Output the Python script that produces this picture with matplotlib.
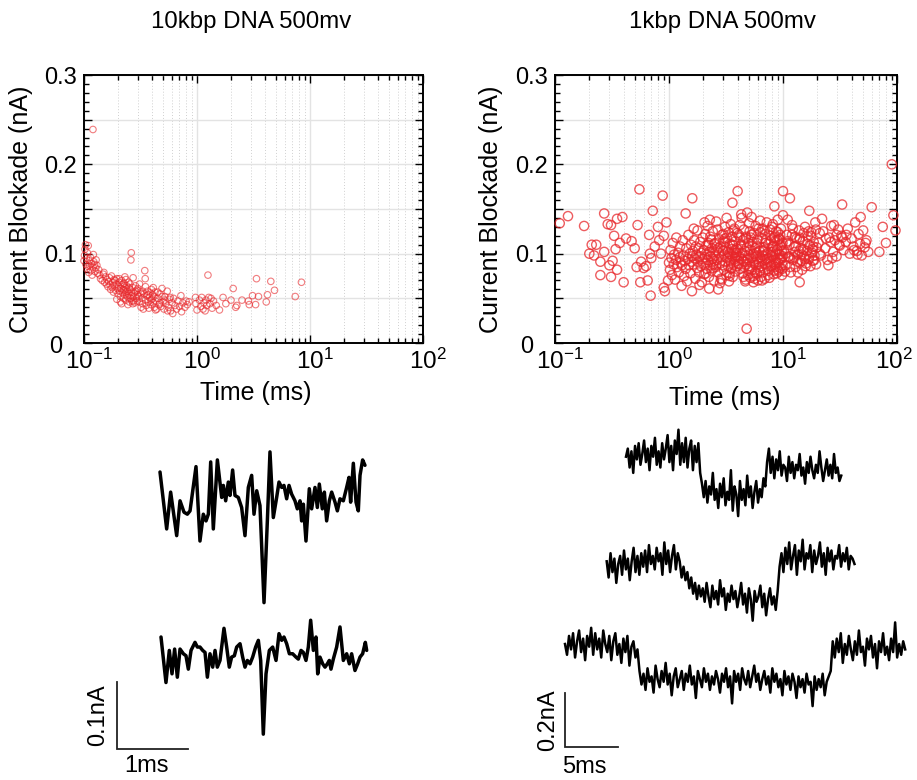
import numpy as np
import matplotlib
matplotlib.use("Agg")
import matplotlib.pyplot as plt
from matplotlib.ticker import MultipleLocator, FuncFormatter, LogLocator
from matplotlib.transforms import offset_copy, blended_transform_factory

plt.rcParams['font.family'] = ['Liberation Sans', 'DejaVu Sans']
plt.rcParams['mathtext.fontset'] = 'custom'
plt.rcParams['mathtext.rm'] = 'Liberation Sans'
plt.rcParams['mathtext.it'] = 'Liberation Sans:italic'
plt.rcParams['mathtext.bf'] = 'Liberation Sans:bold'

# ---------------- data: 10kbp scatter ----------------
l1_t = [0.100,0.101,0.102,0.103,0.104,0.105,0.106,0.107,0.108,0.109,0.110,0.111,0.112,0.114,0.115,0.117,0.118,0.120,0.121,0.122,0.124,0.125,0.127,0.128,0.130,0.132,0.120]
l1_i = [0.092,0.098,0.105,0.110,0.088,0.095,0.083,0.101,0.086,0.109,0.079,0.092,0.087,0.096,0.081,0.089,0.076,0.085,0.099,0.091,0.088,0.080,0.084,0.093,0.087,0.078,0.239]
l2_t = [0.135,0.138,0.140,0.145,0.148,0.150,0.152,0.155,0.158,0.160,0.163,0.165,0.168,0.170,0.172,0.175,0.178,0.180,0.182,0.185,0.188,0.190,0.192,0.195,0.198]
l2_i = [0.082,0.076,0.072,0.070,0.077,0.079,0.068,0.074,0.066,0.071,0.063,0.069,0.073,0.065,0.060,0.075,0.062,0.068,0.057,0.064,0.070,0.059,0.066,0.072,0.061]
l3_t = [0.200,0.202,0.205,0.207,0.210,0.212,0.215,0.217,0.220,0.222,0.224,0.226,0.228,0.230,0.232,0.234,0.236,0.238,0.240,0.242,0.245,0.248,0.250,0.252,0.255,0.258,0.260,0.262,0.263,0.266,0.270,0.272,0.275,0.278,0.282,0.285,0.290,0.295,0.298]
l3_i = [0.055,0.063,0.068,0.058,0.052,0.061,0.070,0.065,0.056,0.060,0.050,0.067,0.054,0.059,0.062,0.048,0.057,0.064,0.053,0.058,0.051,0.068,0.055,0.046,0.060,0.050,0.093,0.101,0.057,0.047,0.062,0.073,0.052,0.056,0.045,0.058,0.050,0.047,0.054]
l4_t = [0.300,0.305,0.310,0.315,0.320,0.325,0.330,0.335,0.340,0.345,0.348,0.350,0.355,0.360,0.365,0.370,0.375,0.380,0.385,0.390,0.395,0.400,0.405,0.410,0.415,0.420,0.425,0.430,0.440,0.450,0.460,0.470,0.480,0.490,0.500]
l4_i = [0.061,0.052,0.046,0.057,0.040,0.050,0.044,0.038,0.055,0.081,0.072,0.048,0.042,0.053,0.058,0.046,0.039,0.051,0.056,0.043,0.060,0.049,0.054,0.045,0.052,0.040,0.057,0.047,0.038,0.050,0.043,0.055,0.041,0.061,0.046]
l5_t = [0.510,0.520,0.530,0.545,0.560,0.570,0.585,0.600,0.610,0.620,0.640,0.660,0.680,0.700,0.720,0.730,0.750,0.780,0.800,0.820,0.850,0.970,0.980,1.000]
l5_i = [0.038,0.052,0.044,0.058,0.040,0.049,0.036,0.045,0.033,0.050,0.042,0.038,0.047,0.041,0.053,0.035,0.045,0.040,0.047,0.043,0.046,0.051,0.044,0.037]
l6_t = [1.05,1.08,1.10,1.13,1.15,1.18,1.20,1.22,1.25,1.27,1.30,1.33,1.36,1.40,1.48,1.58,1.70,1.80,2.00,2.09,2.20,2.25]
l6_i = [0.048,0.041,0.051,0.038,0.045,0.036,0.048,0.042,0.076,0.051,0.044,0.050,0.039,0.047,0.042,0.037,0.051,0.044,0.048,0.061,0.040,0.042]
l7_t = [2.5,2.85,2.9,3.1,3.3,3.36,3.5,4.1,4.2,4.5,4.85,7.4,8.4]
l7_i = [0.048,0.047,0.043,0.053,0.043,0.072,0.052,0.046,0.054,0.069,0.059,0.052,0.068]
l8_t = [0.185,0.195,0.205,0.215,0.225,0.235,0.245,0.255,0.265,0.275,0.285,0.295,0.31,0.33,0.35,0.37,0.39,0.41,0.43,0.45,0.47,0.49,0.52,0.55,0.58,0.21,0.23,0.25,0.27,0.32]
l8_i = [0.071,0.049,0.072,0.044,0.066,0.071,0.043,0.066,0.053,0.047,0.064,0.059,0.066,0.058,0.063,0.054,0.048,0.062,0.037,0.057,0.045,0.052,0.048,0.036,0.051,0.046,0.074,0.062,0.044,0.055]

# ---------------- data: 1kbp scatter ----------------
ra_t = [1.00,1.02,1.03,1.05,1.06,1.08,1.10,1.11,1.13,1.15,1.16,1.18,1.20,1.22,1.24,1.25,1.27,1.29,1.30,1.32,1.34,1.36,1.38,1.40,1.42,1.44,1.46,1.48,1.50,1.52,1.54,1.56,1.58,1.59,1.60]
ra_i = [0.090,0.082,0.104,0.095,0.076,0.112,0.088,0.099,0.071,0.093,0.118,0.085,0.101,0.079,0.096,0.108,0.090,0.064,0.087,0.115,0.098,0.075,0.092,0.083,0.106,0.069,0.094,0.121,0.087,0.100,0.078,0.110,0.091,0.058,0.097]
rb_t = [1.62,1.64,1.66,1.68,1.70,1.72,1.74,1.76,1.78,1.80,1.82,1.84,1.86,1.88,1.90,1.92,1.94,1.96,1.98,2.00,2.02,2.04,2.06,2.08,2.10,2.12,2.14,2.16,2.18,2.20,2.22,2.24,2.26,2.28,2.30,2.32,2.34,2.36,2.38,2.40,2.42,2.44,2.46,2.48,2.50,1.65,1.85,2.05,2.25,2.45]
rb_i = [0.103,0.088,0.115,0.095,0.072,0.108,0.099,0.084,0.126,0.091,0.106,0.079,0.097,0.113,0.086,0.101,0.068,0.094,0.118,0.089,0.104,0.077,0.096,0.122,0.090,0.109,0.083,0.099,0.131,0.093,0.112,0.074,0.102,0.138,0.087,0.097,0.116,0.081,0.106,0.094,0.125,0.088,0.100,0.070,0.111,0.128,0.065,0.135,0.061,0.084]
rc_t = [2.52,2.55,2.58,2.61,2.64,2.67,2.70,2.73,2.76,2.79,2.82,2.85,2.88,2.91,2.94,2.97,3.00,3.03,3.06,3.09,3.12,3.15,3.18,3.21,3.24,3.27,3.30,3.33,3.36,3.39,3.42,3.45,3.48,3.51,3.54,3.57,3.60,3.63,3.66,3.69,3.72,3.75,3.78,3.81,3.84,3.87,3.90,3.93,3.96,3.99,2.60,2.80,3.00,3.20,3.40,3.60,3.80,2.70,3.10,3.50]
rc_i = [0.098,0.112,0.085,0.104,0.093,0.127,0.079,0.101,0.116,0.089,0.108,0.072,0.096,0.121,0.087,0.103,0.114,0.082,0.099,0.130,0.091,0.107,0.076,0.118,0.095,0.102,0.086,0.124,0.069,0.100,0.111,0.092,0.133,0.083,0.105,0.097,0.119,0.074,0.109,0.088,0.101,0.128,0.094,0.080,0.114,0.098,0.106,0.086,0.123,0.092,0.136,0.067,0.103,0.140,0.078,0.110,0.096,0.060,0.117,0.090]
rd_t = [4.02,4.06,4.10,4.14,4.18,4.22,4.26,4.30,4.34,4.38,4.42,4.46,4.50,4.54,4.58,4.62,4.66,4.70,4.74,4.78,4.82,4.86,4.90,4.94,4.98,5.02,5.06,5.10,5.14,5.18,5.22,5.26,5.30,5.35,5.40,5.45,5.50,5.55,5.60,5.65,5.70,5.75,5.80,5.85,5.90,5.95,6.00,6.05,6.10,6.15,6.20,6.25,6.30,6.35,6.40,4.30,4.70,5.10,5.50,5.90]
rd_i = [0.105,0.089,0.121,0.097,0.132,0.083,0.110,0.094,0.140,0.101,0.078,0.115,0.092,0.127,0.085,0.103,0.069,0.098,0.119,0.088,0.107,0.146,0.093,0.076,0.112,0.099,0.134,0.086,0.104,0.073,0.118,0.095,0.141,0.082,0.109,0.097,0.075,0.123,0.090,0.072,0.106,0.131,0.087,0.101,0.078,0.116,0.094,0.070,0.128,0.089,0.103,0.081,0.137,0.096,0.074,0.144,0.071,0.125,0.068,0.108]
re_t = [6.50,6.60,6.70,6.80,6.90,7.00,7.10,7.20,7.30,7.40,7.50,7.60,7.70,7.80,7.90,8.00,8.10,8.20,8.30,8.40,8.50,8.60,8.70,8.80,8.90,9.00,9.10,9.20,9.30,9.40,9.50,9.60,9.70,9.80,9.90,10.0,6.55,6.95,7.35,7.75,8.15,8.55,8.95,9.35,9.75,6.75,7.55,8.35,9.15,9.95,7.05,7.85,8.65,9.45,6.65]
re_i = [0.092,0.117,0.079,0.104,0.126,0.088,0.099,0.135,0.083,0.111,0.095,0.073,0.120,0.102,0.087,0.130,0.097,0.108,0.081,0.153,0.114,0.093,0.125,0.078,0.105,0.138,0.090,0.099,0.117,0.084,0.109,0.128,0.095,0.076,0.112,0.143,0.070,0.122,0.101,0.089,0.133,0.085,0.115,0.094,0.103,0.107,0.091,0.118,0.080,0.097,0.112,0.086,0.100,0.121,0.098]
rf_t = [10.2,10.5,10.8,11.1,11.4,11.7,12.0,12.3,12.6,12.9,13.2,13.5,13.8,14.1,14.4,14.7,15.0,15.3,15.6,15.9,16.2,16.5,16.8,17.1,17.4,17.7,18.0,18.3,18.6,18.9,19.2,19.5,19.8,10.4,11.0,11.6,12.2,12.8,13.4,14.0,14.6,15.2,15.8,16.4,17.0,17.6,18.2,18.8,19.4,10.7]
rf_i = [0.104,0.087,0.121,0.096,0.110,0.079,0.132,0.093,0.108,0.085,0.117,0.099,0.126,0.090,0.106,0.082,0.114,0.097,0.130,0.089,0.103,0.119,0.094,0.109,0.086,0.124,0.101,0.092,0.113,0.098,0.135,0.088,0.107,0.080,0.138,0.095,0.128,0.102,0.091,0.116,0.099,0.123,0.086,0.111,0.097,0.120,0.105,0.093,0.127,0.112]
rg_t = [20.5,21.5,22.5,23.5,24.5,25.5,26.5,27.5,28.5,29.5,30.5,31.5,32.5,34,35.5,37,38.5,40,41.5,43,44.5,46,47.5,49,50.5,52,54,56,22,25,28,31,36,42,48,53,21,27,33,45]
rg_i = [0.112,0.098,0.125,0.106,0.093,0.118,0.131,0.102,0.115,0.097,0.127,0.109,0.120,0.104,0.113,0.128,0.100,0.117,0.108,0.135,0.103,0.122,0.111,0.098,0.126,0.107,0.115,0.102,0.139,0.087,0.132,0.110,0.121,0.104,0.141,0.112,0.123,0.095,0.118,0.099]
rh_t = [2.1,2.3,2.5,2.7,2.9,3.1,3.3,3.5,3.7,3.9,4.1,4.3,4.5,4.7,4.9,5.1,5.3,5.5,5.7,5.9,6.1,6.3,6.5,6.7,6.9,7.1,7.3,7.5,7.7,7.9,8.1,8.3,8.5,8.7,8.9,9.1,9.3,9.5,9.7,9.9,10.5,11.0,11.5,12.0,12.5,13.0,13.5,14.0,14.5,15.0,2.2,2.6,3.0,3.4,3.8,4.2,4.6,5.0,5.4,5.8,6.2,6.6,7.0,7.4,7.8,8.2,8.6,9.0,9.4,9.8,11.3,12.7,13.9,15.5,16.8,18.4,21.0,23.8,26.2,29.5]
rh_i = [0.078,0.119,0.092,0.106,0.071,0.113,0.097,0.084,0.126,0.101,0.088,0.109,0.074,0.117,0.095,0.083,0.121,0.100,0.079,0.112,0.091,0.124,0.086,0.103,0.072,0.115,0.094,0.081,0.127,0.098,0.108,0.077,0.119,0.090,0.104,0.082,0.116,0.093,0.110,0.087,0.100,0.114,0.085,0.121,0.096,0.108,0.079,0.118,0.092,0.105,0.110,0.087,0.122,0.075,0.104,0.118,0.091,0.081,0.113,0.097,0.085,0.128,0.093,0.076,0.115,0.102,0.088,0.124,0.099,0.083,0.097,0.119,0.103,0.094,0.125,0.108,0.100,0.117,0.113,0.121]
ro_t = [0.11,0.13,0.18,0.20,0.21,0.22,0.23,0.25,0.25,0.27,0.27,0.29,0.30,0.31,0.31,0.32,0.33,0.34,0.35,0.35,0.37,0.39,0.40,0.42,0.47,0.50,0.52,0.53,0.55,0.56,0.57,0.60,0.63,0.65,0.67,0.68,0.69,0.70,0.72,0.75,0.80,0.82,0.85,0.88,0.90,0.90,0.92,0.95,0.98,4.8,90,93,97,60,33,17,10,11.5,4.0,3.6,1.6,1.4,14,80,75,70]
ro_i = [0.134,0.142,0.131,0.100,0.110,0.098,0.110,0.091,0.076,0.145,0.102,0.133,0.087,0.074,0.132,0.092,0.120,0.105,0.082,0.139,0.112,0.141,0.068,0.117,0.114,0.106,0.085,0.132,0.172,0.068,0.091,0.084,0.086,0.070,0.121,0.100,0.053,0.095,0.148,0.108,0.130,0.115,0.100,0.165,0.062,0.120,0.058,0.135,0.070,0.016,0.200,0.143,0.126,0.152,0.155,0.148,0.170,0.162,0.170,0.157,0.162,0.145,0.068,0.112,0.130,0.102]

# ---------------- data: 10kbp event traces (time ms, current nA) ----------------
ev1_t = [0,0.094,0.150,0.235,0.282,0.338,0.385,0.423,0.507,0.563,0.610,0.648,0.681,0.714,0.751,0.808,0.869,0.892,0.925,0.962,0.986,1.023,1.056,1.103,1.150,1.197,1.244,1.291,1.324,1.362,1.408,1.465,1.512,1.549,1.596,1.643,1.676,1.714,1.746,1.784,1.817,1.854,1.901,1.934,1.972,1.995,2.019,2.056,2.103,2.136,2.183,2.216,2.244,2.286,2.315,2.347,2.385,2.418,2.465,2.498,2.535,2.582,2.629,2.662,2.685,2.723,2.761,2.793,2.817,2.854,2.887]
ev1_i = [0,-0.085,-0.030,-0.095,-0.043,-0.060,-0.063,-0.058,0.008,-0.103,-0.063,-0.073,-0.063,0.015,-0.085,0.018,-0.038,-0.020,-0.043,-0.015,-0.035,0.003,-0.035,-0.038,-0.053,-0.095,-0.023,-0.005,-0.063,-0.028,-0.050,-0.195,-0.073,0.030,-0.068,-0.038,-0.015,-0.023,-0.020,-0.040,-0.020,-0.033,-0.043,-0.055,-0.043,-0.073,-0.048,-0.103,-0.025,-0.055,-0.023,-0.053,-0.018,-0.055,-0.030,-0.073,-0.043,-0.030,-0.045,-0.058,-0.040,-0.043,-0.023,-0.008,-0.045,0.013,-0.045,-0.058,-0.005,0.018,0.010]
ev2_t = [0,0.070,0.117,0.155,0.192,0.230,0.268,0.315,0.352,0.385,0.423,0.479,0.512,0.549,0.587,0.620,0.653,0.690,0.728,0.761,0.793,0.831,0.887,0.925,0.962,0.995,1.033,1.066,1.113,1.150,1.183,1.216,1.254,1.291,1.333,1.371,1.404,1.441,1.479,1.526,1.573,1.620,1.662,1.700,1.732,1.770,1.808,1.854,1.901,1.934,1.972,2.005,2.042,2.075,2.108,2.146,2.183,2.207,2.239,2.277,2.310,2.343,2.371,2.394,2.427,2.474,2.521,2.568,2.615,2.653,2.685,2.732,2.770,2.803,2.840,2.878,2.897]
ev2_i = [0,-0.068,-0.020,-0.055,-0.018,-0.060,-0.018,-0.025,-0.028,-0.048,-0.020,-0.008,-0.015,-0.015,-0.020,-0.023,-0.060,-0.025,-0.045,-0.020,-0.045,-0.035,0.013,-0.015,-0.045,-0.030,-0.028,-0.015,-0.010,-0.030,-0.045,-0.035,-0.040,-0.030,-0.015,-0.005,-0.035,-0.145,-0.055,-0.020,-0.015,-0.035,0.005,-0.005,0.000,-0.010,-0.025,-0.025,-0.030,-0.033,-0.020,-0.023,-0.035,-0.015,0.025,-0.020,0.000,-0.055,-0.030,-0.040,-0.045,-0.040,-0.035,-0.048,-0.033,-0.015,0.015,-0.035,-0.025,-0.040,-0.025,-0.050,-0.040,-0.030,-0.025,-0.008,-0.020]

# ---------------- data: 1kbp event traces (uniformly sampled current, nA) ----------------
ev3_i = [0.00,0.03,-0.04,0.02,-0.06,0.04,-0.01,0.05,-0.03,0.01,
         0.06,-0.02,0.03,-0.05,0.04,0.00,0.07,-0.03,0.02,-0.04,
         0.05,-0.01,0.03,0.08,-0.02,0.04,-0.05,0.06,0.01,0.10,
         -0.03,0.05,-0.02,0.07,-0.04,0.03,0.06,-0.05,0.04,-0.02,
         0.05,-0.06,
         -0.10,-0.15,-0.09,-0.17,-0.11,-0.14,-0.06,-0.16,-0.12,-0.19,
         -0.10,-0.15,-0.08,-0.18,-0.13,-0.16,-0.05,-0.20,-0.11,-0.14,
         -0.22,-0.09,-0.16,-0.12,-0.18,-0.07,-0.15,-0.11,-0.19,-0.13,
         -0.09,-0.17,-0.12,-0.15,-0.08,-0.11,
         -0.02,0.03,-0.06,0.00,-0.08,-0.01,-0.05,0.02,-0.07,-0.03,
         -0.04,-0.09,0.00,-0.06,-0.02,-0.08,-0.03,-0.05,0.01,-0.07,
         -0.04,-0.10,-0.02,-0.06,0.00,-0.05,-0.08,-0.03,-0.06,0.02,
         -0.04,-0.09,-0.05,-0.01,-0.07,-0.03,-0.08,0.01,-0.06,-0.04,
         -0.09,-0.07]
ev4_i = [0.02,-0.04,0.05,-0.02,0.03,-0.06,0.01,0.04,-0.03,0.06,
         -0.01,0.03,-0.05,0.02,0.07,-0.02,0.04,-0.03,0.05,0.00,
         0.06,-0.02,0.08,0.01,0.04,-0.01,0.07,0.02,0.05,-0.03,
         0.09,0.01,0.06,-0.02,0.04,0.08,-0.01,0.05,0.02,-0.04,
         0.00,-0.05,-0.02,-0.08,-0.04,-0.10,-0.06,-0.12,-0.07,-0.11,
         -0.08,-0.13,-0.06,-0.11,-0.15,-0.07,-0.12,-0.09,-0.14,-0.05,
         -0.11,-0.08,-0.16,-0.10,-0.13,-0.07,-0.12,-0.09,-0.15,-0.11,
         -0.06,-0.14,-0.10,-0.17,-0.08,-0.12,-0.20,-0.09,-0.13,-0.11,
         -0.07,-0.15,-0.10,-0.18,-0.12,-0.08,-0.14,-0.11,-0.16,-0.09,
         0.00,0.05,-0.02,0.07,0.01,0.09,-0.01,0.04,0.08,-0.03,
         0.06,0.02,0.10,-0.01,0.05,0.03,0.08,-0.02,0.06,0.01,
         0.04,0.09,0.00,0.05,-0.03,0.07,0.02,0.06,-0.01,0.04,
         0.03,0.08,0.00,0.05,0.02,0.07,-0.01,0.04,0.03,0.01]
ev5_i = [0.01,-0.03,0.04,-0.01,0.05,-0.04,0.02,0.06,-0.02,0.03,
         -0.05,0.04,0.00,0.07,-0.03,0.05,-0.01,0.03,-0.04,0.06,
         0.01,-0.02,0.04,-0.05,0.02,0.05,-0.03,0.01,-0.06,0.03,
         -0.02,0.04,-0.07,0.00,0.02,-0.04,-0.01,
         -0.09,-0.14,-0.10,-0.16,-0.08,-0.13,-0.11,-0.17,-0.07,-0.12,
         -0.15,-0.09,-0.13,-0.06,-0.14,-0.10,-0.18,-0.11,-0.08,-0.15,
         -0.12,-0.09,-0.16,-0.10,-0.13,-0.07,-0.14,-0.11,-0.19,-0.09,
         -0.12,-0.15,-0.08,-0.13,-0.10,-0.16,-0.11,-0.14,-0.09,-0.12,
         -0.17,-0.10,-0.13,-0.08,-0.15,-0.11,-0.21,-0.09,-0.13,-0.10,
         -0.16,-0.08,-0.12,-0.14,-0.09,-0.15,-0.11,-0.07,-0.13,-0.10,
         -0.16,-0.12,-0.09,-0.14,-0.11,-0.17,-0.08,-0.13,-0.10,-0.15,
         -0.12,-0.18,-0.09,-0.14,-0.11,-0.16,-0.10,-0.13,-0.19,-0.11,
         -0.15,-0.12,-0.17,-0.10,-0.14,-0.13,-0.22,-0.11,-0.16,-0.12,
         -0.15,-0.10,-0.18,-0.13,-0.11,-0.09,
         0.02,-0.04,0.03,-0.02,0.05,-0.06,0.01,-0.03,0.04,-0.01,
         -0.05,0.02,-0.03,0.06,-0.02,0.00,-0.07,0.03,-0.01,0.04,
         -0.04,0.01,-0.08,0.02,-0.02,0.05,-0.03,0.00,-0.05,0.03,
         -0.02,0.09,-0.04,0.01,-0.03,0.02,-0.01]
ev_durations = [20.5, 23.6, 32.4]  # ms

titles = ["10kbp DNA 500mv", "1kbp DNA 500mv"]
xlabel = "Time (ms)"
ylabel = "Current Blockade (nA)"
decades = [0.1, 1, 10, 100]
decade_labels = [r'$10^{-1}$', r'$10^{0}$', r'$10^{1}$', r'$10^{2}$']

# ---------------- figure ----------------
W, H = 917, 780
fig = plt.figure(figsize=(W / 100, H / 100), dpi=100)

def px_axes(x0, y0, x1, y1):
    return fig.add_axes([x0 / W, 1 - y1 / H, (x1 - x0) / W, (y1 - y0) / H])

RED = '#e8262a'

def style_scatter(ax, label_dx):
    ax.set_xscale('log')
    ax.set_xlim(0.1, 100)
    ax.set_ylim(0, 0.3)
    ax.xaxis.set_major_locator(LogLocator(base=10, numticks=10))
    ax.xaxis.set_minor_locator(LogLocator(base=10, subs=np.arange(2, 10), numticks=10))
    ax.yaxis.set_major_locator(MultipleLocator(0.05))
    ax.yaxis.set_minor_locator(MultipleLocator(0.01))
    def yfmt(v, pos):
        if abs(v) < 1e-9:
            return ''
        k = v / 0.1
        if abs(k - round(k)) < 1e-6:
            return f'{v:.1f}'
        return ''
    ax.yaxis.set_major_formatter(FuncFormatter(yfmt))
    ax.set_axisbelow(True)
    ax.grid(which='major', color='#e3e3e3', lw=1.0)
    ax.grid(which='minor', axis='x', color='#d0d0d0', lw=0.7, ls=(0, (1, 2)))
    ax.tick_params(which='both', direction='in', top=True, right=True, width=1.0, colors='black')
    ax.tick_params(which='major', length=6, labelsize=17, pad=5)
    ax.tick_params(axis='x', which='both', labelbottom=False)
    ax.tick_params(which='minor', length=3.5)
    for s in ax.spines.values():
        s.set_linewidth(1.4)
    ax.set_xlabel(xlabel, fontsize=18, va='center')
    ax.set_ylabel(ylabel, fontsize=18)
    # decade labels: base "10" sits centred on its tick
    blend = blended_transform_factory(ax.transData, ax.transAxes)
    for v, lab, dx in zip(decades, decade_labels, label_dx):
        tr = offset_copy(blend, fig=fig, x=dx, y=-6, units='dots')
        ax.text(v, 0, lab, transform=tr, fontsize=17.5, ha='center', va='top')
    # the "0" label sits a little left of and below the axes corner
    tr = offset_copy(ax.transAxes, fig=fig, x=-22, y=-4, units='dots')
    ax.text(0, 0, '0', transform=tr, fontsize=17, ha='right', va='center')

ax1 = px_axes(84, 75, 423, 343)
style_scatter(ax1, [5, 5, 5, 5])
lt = l1_t + l2_t + l3_t + l4_t + l5_t + l6_t + l7_t + l8_t
li = l1_i + l2_i + l3_i + l4_i + l5_i + l6_i + l7_i + l8_i
ax1.scatter(lt, li, s=22, facecolors='none', edgecolors=RED, linewidths=0.8, alpha=0.6, zorder=3, clip_on=False)
ax1.xaxis.set_label_coords(0.507, -0.187)
ax1.yaxis.set_label_coords(-0.15, 0.5)

ax2 = px_axes(555, 75, 897, 343)
style_scatter(ax2, [5, 5, 5, -3])
rt = ra_t + rb_t + rc_t + rd_t + re_t + rf_t + rg_t + rh_t + ro_t
ri = ra_i + rb_i + rc_i + rd_i + re_i + rf_i + rg_i + rh_i + ro_i
ax2.scatter(rt, ri, s=44, facecolors='none', edgecolors=RED, linewidths=1.0, alpha=0.75, zorder=3, clip_on=False)
ax2.xaxis.set_label_coords(0.497, -0.205)
ax2.yaxis.set_label_coords(-0.152, 0.5)

fig.text(251 / W, 1 - 22 / H, titles[0], fontsize=17.3, ha='center', va='center')
fig.text(722 / W, 1 - 22 / H, titles[1], fontsize=17.3, ha='center', va='center')

# ---------------- bottom left traces ----------------
PX_MS_L = 71.0    # px per ms
PX_NA_L = 670.0   # px per nA
bl = px_axes(80, 420, 410, 780)
bl.set_xlim(0, 330 / PX_MS_L)
bl.set_ylim(-360 / PX_NA_L, 0)
bl.axis('off')

def at_l(xp, yp):
    return (xp - 80) / PX_MS_L, -(yp - 420) / PX_NA_L

t0, i0 = at_l(160, 472)
bl.plot(np.array(ev1_t) + t0, np.array(ev1_i) + i0, color='black', lw=2.5,
        solid_joinstyle='round', solid_capstyle='round')
t0, i0 = at_l(161, 637)
bl.plot(np.array(ev2_t) + t0, np.array(ev2_i) + i0, color='black', lw=2.5,
        solid_joinstyle='round', solid_capstyle='round')
sx, sy = at_l(117, 749)
bl.plot([sx, sx, sx + 1.0], [sy + 0.1, sy, sy], color='#222222', lw=1.3, solid_joinstyle='miter')
bl.text(sx - 0.27, sy + 0.05, "0.1nA", rotation=90, fontsize=17, ha='center', va='center')
lx, ly = at_l(147, 766)
bl.text(lx, ly, "1ms", fontsize=17, ha='center', va='center')

# ---------------- bottom right traces ----------------
PX_MS_R = 10.5
PX_NA_R = 270.0
br = px_axes(540, 410, 917, 780)
br.set_xlim(0, 377 / PX_MS_R)
br.set_ylim(-370 / PX_NA_R, 0)
br.axis('off')

def at_r(xp, yp):
    return (xp - 540) / PX_MS_R, -(yp - 410) / PX_NA_R

for vals, dur, (xp, yp) in zip([ev3_i, ev4_i, ev5_i], ev_durations,
                               [(626, 456.7), (606.7, 566.7), (565, 646.7)]):
    t0, i0 = at_r(xp, yp)
    n = len(vals)
    tt = t0 + np.arange(n) * dur / (n - 1)
    br.plot(tt, np.array(vals) + i0, color='black', lw=1.8)

sx, sy = at_r(565, 747)
br.plot([sx, sx, sx + 5.0], [sy + 0.2, sy, sy], color='#222222', lw=1.3, solid_joinstyle='miter')
br.text(sx - 1.6, sy + 0.1, "0.2nA", rotation=90, fontsize=17, ha='center', va='center')
lx, ly = at_r(584, 767)
br.text(lx, ly, "5ms", fontsize=17, ha='center', va='center')

fig.savefig("out.png", dpi=100)
